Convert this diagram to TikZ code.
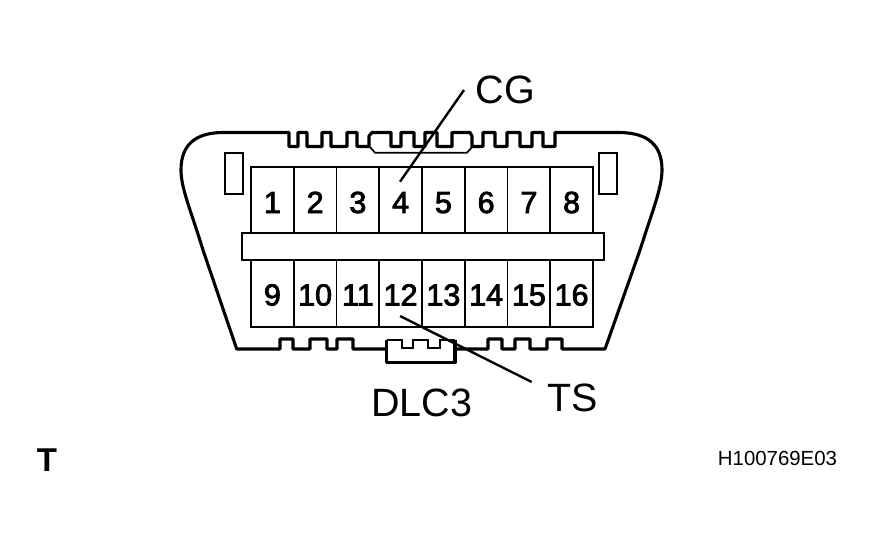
\documentclass[tikz,border=0pt]{standalone}
\usepackage{fontspec}
\setmainfont{Liberation Sans}
\newfontfamily\pinfont[FakeBold=2.6]{Liberation Sans}
\newlength{\du}
\setlength{\du}{1pt}
\tikzset{
  pincell/.style={draw=black,line width=1.7\du,fill=white,inner sep=0pt,outer sep=0pt,minimum width=42.75\du,
    text depth=0pt,font=\fontsize{30.5}{30.5}\pinfont},
  toprow/.style={pincell,minimum height=66\du,text height=26\du},
  lowrow/.style={pincell,minimum height=67\du,text height=24\du},
  shellline/.style={line width=3.1\du,line join=round},
  thinline/.style={line width=1.7\du,line join=miter},
  leadline/.style={line width=2.4\du},
  biglabel/.style={anchor=base,inner sep=0pt,outer sep=0pt,font=\fontsize{39.5}{39.5}\selectfont},
}
\begin{document}
\begin{tikzpicture}
\pgftransformxscale{1.000000}
\pgftransformyscale{-1.000000}
\useasboundingbox (0\du,0\du) rectangle (874\du,547\du);
% shell, top teeth
\draw[shellline] (203\du,250\du) .. controls (190\du,208\du) and (181\du,188\du) .. (181\du,170\du)
  .. controls (181\du,145\du) and (195\du,133\du) .. (222\du,132.5\du)
  -- (289\du,132.5\du) -- (289\du,146.5\du) -- (298\du,146.5\du) -- (298\du,132.5\du)
  -- (307\du,132.5\du) -- (307\du,146.5\du) -- (322\du,146.5\du) -- (322\du,132.5\du)
  -- (331\du,132.5\du) -- (331\du,146.5\du) -- (347\du,146.5\du) -- (347\du,132.5\du)
  -- (357\du,132.5\du) -- (357\du,146.5\du) -- (369\du,146.5\du) -- (369\du,136\du)
  -- (372\du,132.5\du) -- (391\du,132.5\du) -- (391\du,146.5\du) -- (401\du,146.5\du)
  -- (401\du,132.5\du) -- (414\du,132.5\du) -- (414\du,146.5\du) -- (425\du,146.5\du)
  -- (425\du,132.5\du) -- (437\du,132.5\du) -- (437\du,146.5\du) -- (452\du,146.5\du)
  -- (452\du,132.5\du) -- (470\du,132.5\du) -- (472\du,136\du) -- (472\du,146.5\du)
  -- (483\du,146.5\du) -- (483\du,132.5\du) -- (495\du,132.5\du) -- (495\du,146.5\du)
  -- (507\du,146.5\du) -- (507\du,132.5\du) -- (520\du,132.5\du) -- (520\du,146.5\du)
  -- (532\du,146.5\du) -- (532\du,132.5\du) -- (543\du,132.5\du) -- (543\du,146.5\du)
  -- (555\du,146.5\du) -- (555\du,132.5\du) -- (620\du,132.5\du)
  .. controls (648\du,133\du) and (662\du,145\du) .. (662\du,170\du)
  .. controls (662\du,188\du) and (652\du,212\du) .. (640\du,250\du)
  -- (605\du,349\du)
% shell, lower teeth
  -- (562\du,349\du) -- (562\du,339\du) -- (547\du,339\du) -- (547\du,349\du)
  -- (530\du,349\du) -- (530\du,339\du) -- (515\du,339\du) -- (515\du,349\du)
  -- (502\du,349\du) -- (502\du,339\du) -- (488\du,339\du) -- (488\du,349\du)
  -- (455\du,349\du);
\draw[shellline] (386.7\du,349\du) -- (353\du,349\du) -- (353\du,339\du) -- (337\du,339\du)
  -- (337\du,349\du) -- (327\du,349\du) -- (327\du,339\du) -- (310\du,339\du)
  -- (310\du,349\du) -- (293\du,349\du) -- (293\du,339\du) -- (280\du,339\du)
  -- (280\du,349\du) -- (236.7\du,349\du) -- (203\du,250\du);
% center key, lower side
\draw[line width=3.4\du,line join=round] (386.7\du,340\du) -- (386.7\du,362.5\du) -- (455\du,362.5\du) -- (455\du,340\du);
\draw[thinline] (386.7\du,340\du) -- (401.7\du,340\du) -- (401.7\du,348\du) -- (413\du,348\du) -- (413\du,340\du)
  -- (428\du,340\du) -- (428\du,348\du) -- (440\du,348\du) -- (440\du,340\du) -- (455\du,340\du);
% center key, upper side
\draw[thinline] (370\du,147\du) -- (375\du,152.7\du) -- (467\du,152.7\du) -- (472\du,147\du);
% latches
\node[draw=black,line width=1.7\du,inner sep=0pt,outer sep=0pt,minimum width=18.3\du,minimum height=41.3\du] (latchL) at (233.8\du,173.3\du) {};
\node[draw=black,line width=1.7\du,inner sep=0pt,outer sep=0pt,minimum width=18.3\du,minimum height=41.3\du] (latchR) at (608\du,173.3\du) {};
% pins 1 to 8
\node[toprow] (pin1) at (272.4\du,200\du) {1};
\node[toprow] (pin2) at (315.1\du,200\du) {2};
\node[toprow] (pin3) at (357.9\du,200\du) {3};
\node[toprow] (pin4) at (400.6\du,200\du) {4};
\node[toprow] (pin5) at (443.4\du,200\du) {5};
\node[toprow] (pin6) at (486.1\du,200\du) {6};
\node[toprow] (pin7) at (528.9\du,200\du) {7};
\node[toprow] (pin8) at (571.6\du,200\du) {8};
% pins 9 to 16
\node[lowrow] (pin9) at (272.4\du,293.5\du) {9};
\node[lowrow] (pin10) at (315.1\du,293.5\du) {10};
\node[lowrow] (pin11) at (357.9\du,293.5\du) {11};
\node[lowrow] (pin12) at (400.6\du,293.5\du) {12};
\node[lowrow] (pin13) at (443.4\du,293.5\du) {13};
\node[lowrow] (pin14) at (486.1\du,293.5\du) {14};
\node[lowrow] (pin15) at (528.9\du,293.5\du) {15};
\node[lowrow] (pin16) at (571.6\du,293.5\du) {16};
% middle bar
\node[draw=black,line width=1.7\du,fill=white,inner sep=0pt,outer sep=0pt,minimum width=361.7\du,minimum height=27\du] (bar) at (422.9\du,246.5\du) {};
% labels
\node[biglabel] (cg) at (505.5\du,103\du) {CG};
\node[biglabel] (ts) at (572.5\du,411.7\du) {TS};
\node[biglabel] (dlc) at (421.5\du,416.7\du) {DLC3};
\node[anchor=base,inner sep=0pt,outer sep=0pt,font=\fontsize{33}{33}\selectfont\bfseries] (mark) at (47\du,471.7\du) {T};
\node[anchor=base,inner sep=0pt,outer sep=0pt,font=\fontsize{20.4}{20.4}\selectfont] (code) at (777.5\du,465\du) {H100769E03};
% leads
\coordinate (cgfree) at (464\du,90\du);
\coordinate (cgtip) at (400\du,181.7\du);
\coordinate (tsfree) at (531.7\du,382\du);
\coordinate (tstip) at (400\du,316\du);
\draw[leadline] (cgfree) -- (cgtip);
\draw[leadline] (tsfree) -- (tstip);
\end{tikzpicture}
\end{document}
